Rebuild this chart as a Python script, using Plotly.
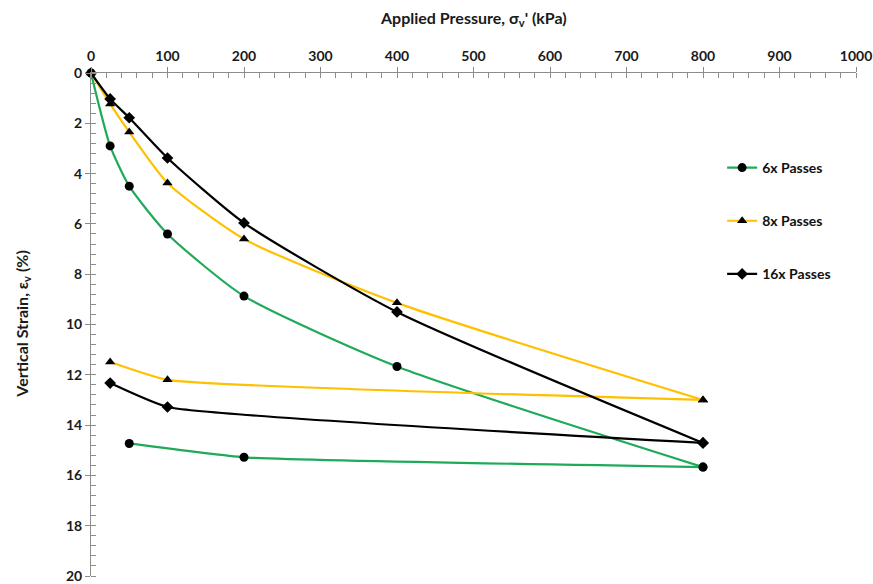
import plotly.graph_objects as go

# Data (pressure kPa, vertical strain %): loading then unloading
p6 = [0, 25, 50, 100, 200, 400, 800, 200, 50]
e6 = [0, 2.9, 4.5, 6.4, 8.87, 11.67, 15.67, 15.28, 14.73]

p8 = [0, 25, 50, 100, 200, 400, 800, 100, 25]
e8 = [0, 1.23, 2.35, 4.37, 6.6, 9.14, 13.0, 12.2, 11.49]

p16 = [0, 25, 50, 100, 200, 400, 800, 100, 25]
e16 = [0, 1.03, 1.78, 3.38, 5.96, 9.5, 14.71, 13.28, 12.33]

names = ["6x Passes", "8x Passes", "16x Passes"]
colors = ["#1FAA59", "#FFC000", "#000000"]
symbols = ["circle", "triangle-up", "diamond"]
peak = 6  # index of the maximum load (800 kPa)

fig = go.Figure()
for i, (x, y) in enumerate([(p6, e6), (p8, e8), (p16, e16)]):
    # loading branch
    fig.add_trace(go.Scatter(
        x=x[:peak + 1], y=y[:peak + 1], name=names[i], mode="lines+markers",
        line=dict(color=colors[i], width=2.2, shape="spline", smoothing=0.6),
        marker=dict(symbol=symbols[i], color="black", size=9),
        legendgroup=names[i], cliponaxis=False,
    ))
    # unloading branch
    fig.add_trace(go.Scatter(
        x=x[peak:], y=y[peak:], name=names[i], mode="lines+markers",
        line=dict(color=colors[i], width=2.2, shape="spline", smoothing=0.4),
        marker=dict(symbol=symbols[i], color="black", size=9),
        legendgroup=names[i], showlegend=False, cliponaxis=False,
    ))

font_main = "Lato, 'Open Sans', sans-serif"
tc = "#1a1a1a"

fig.update_layout(
    width=873, height=584,
    margin=dict(l=91, r=17, t=73, b=8),
    paper_bgcolor="white", plot_bgcolor="white",
    font=dict(family=font_main, size=13, color=tc),
    showlegend=True,
    legend=dict(
        x=0.825, y=0.843, xanchor="left", yanchor="top",
        traceorder="grouped", tracegroupgap=32,
        font=dict(family=font_main, size=14, color="#111", weight="bold"),
        itemwidth=30, bgcolor="rgba(0,0,0,0)",
    ),
    xaxis=dict(
        side="top", range=[0, 1000], dtick=100, tick0=0, automargin=False,
        showgrid=False, zeroline=False,
        showline=True, linecolor="#8c8c8c", linewidth=1,
        ticks="outside", ticklen=5, tickcolor="#8c8c8c",
        minor=dict(dtick=20, ticks="inside", ticklen=5, tickcolor="#8c8c8c", showgrid=False),
        tickfont=dict(family=font_main, size=14, color=tc, weight="bold"),
    ),
    yaxis=dict(
        range=[20, 0], dtick=2, tick0=0, automargin=False,
        showgrid=False, zeroline=False,
        showline=True, linecolor="#8c8c8c", linewidth=1,
        ticks="outside", ticklen=5, tickcolor="#8c8c8c",
        minor=dict(dtick=0.4, ticks="inside", ticklen=5, tickcolor="#8c8c8c", showgrid=False),
        tickfont=dict(family=font_main, size=14, color=tc, weight="bold"),
    ),
    annotations=[
        dict(text="Applied Pressure, σ<sub>v</sub>' (kPa)", xref="paper", yref="paper",
             x=0.5, y=1.109, xanchor="center", yanchor="middle", showarrow=False,
             font=dict(family=font_main, size=16, color=tc, weight="bold")),
        dict(text="Vertical Strain, ε<sub>v</sub> (%)", xref="paper", yref="paper",
             x=-0.09, y=0.5, xanchor="center", yanchor="middle", showarrow=False,
             textangle=-90,
             font=dict(family=font_main, size=16, color=tc, weight="bold")),
    ],
)

fig.write_html("out.html")
